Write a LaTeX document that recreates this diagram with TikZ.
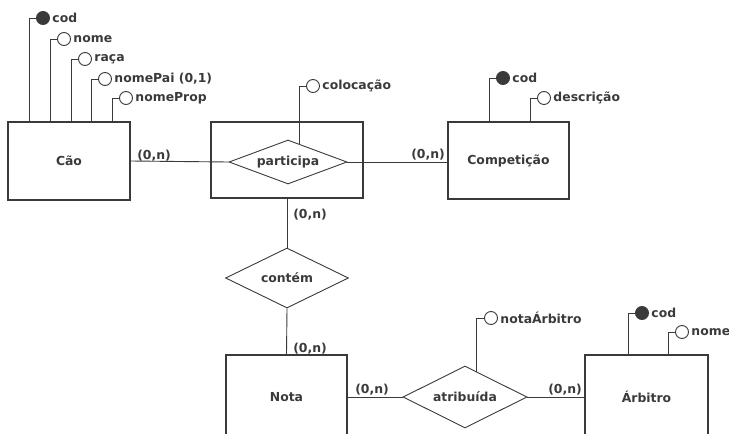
\documentclass[tikz,border=0pt]{standalone}
\usepackage{fontspec}
\setmainfont{DejaVu Sans}
\usepackage{tikz}
\usetikzlibrary{shapes.geometric,calc}
\definecolor{ink}{HTML}{3A3A3A}

\begin{document}
\begin{tikzpicture}[x=1pt,y=-1pt,
  every node/.append style={font=\fontsize{12.4}{14}\selectfont\bfseries,text=ink},
  ent/.style={draw=ink,line width=1.2pt,minimum width=122pt,minimum height=78pt,inner sep=0pt},
  rel/.style={draw=ink,line width=0.9pt,diamond,inner sep=0pt,aspect=2.5},
  key/.style={circle,draw=ink,fill=ink,line width=0.9pt,minimum size=13pt,inner sep=0pt},
  att/.style={circle,draw=ink,fill=white,line width=0.9pt,minimum size=13pt,inner sep=0pt},
  link/.style={draw=ink,line width=0.9pt},
  card/.style={inner sep=0pt}]
\useasboundingbox (0,0) rectangle (729,434);
%\draw[help lines] (0,0) grid[step=50] (729,434);

% entidades
\node[ent] (cao) at (69,161) {Cão};
\node[ent,minimum width=152pt,minimum height=76pt] (partbox) at (287,160) {};
\node[ent,minimum width=121pt,minimum height=77pt] (comp) at (508.5,160.5) {Competição};
\node[ent,minimum width=121pt,minimum height=84pt] (nota) at (286.5,397) {Nota};
\node[ent,minimum width=123pt,minimum height=84pt] (arb) at (646.5,397) {Árbitro};

% relacionamentos
\node[rel,minimum width=118pt,minimum height=44pt] (part) at (288,162) {participa};
\node[rel,minimum width=123pt,minimum height=60pt] (cont) at (287,278) {contém};
\node[rel,minimum width=124pt,minimum height=62pt] (atrib) at (465,397) {atribuída};

\draw[link] (cao.east) -- (part.west);
\draw[link] (part.east) -- (comp.west |- part.east);
\draw[link] (partbox.south) -- (cont.north);
\draw[link] (cont.south) -- (nota.north);
\draw[link] (nota.east |- atrib.west) -- (atrib.west);
\draw[link] (atrib.east) -- (arb.west |- atrib.east);

% cardinalidades
\node[card] (k1) at (154,156) {(0,n)};
\node[card] (k2) at (428,155) {(0,n)};
\node[card] (k3) at (310,215) {(0,n)};
\node[card] (k4) at (310,349) {(0,n)};
\node[card] (k5) at (372,390) {(0,n)};
\node[card] (k6) at (565,390) {(0,n)};

% atributos
\foreach \n/\x/\y/\t/\s in {c1/29/18/cod/key,c2/50/39/nome/att,c3/71/59/raça/att,
  c4/91/79/{nomePai (0,1)}/att,c5/112/98/nomeProp/att}
{
\node[\s,label={[label distance=-1pt]right:\t}] (\n) at (\x+14,\y) {};
\draw[link] (\n.west) -| (\x,0 |- cao.north);
}
\foreach \n/\x/\y/\t/\s in {m1/489/78/cod/key,m2/530/98/descrição/att}
{
\node[\s,label={[label distance=-1pt]right:\t}] (\n) at (\x+14,\y) {};
\draw[link] (\n.west) -| (\x,0 |- comp.north);
}
\foreach \n/\x/\y/\t/\s in {a1/628/313/cod/key,a2/668/332/nome/att}
{
\node[\s,label={[label distance=-1pt]right:\t}] (\n) at (\x+14,\y) {};
\draw[link] (\n.west) -| (\x,0 |- arb.north);
}
\node[att,label={[label distance=-1pt]right:colocação}] (col) at (313,86) {};
\draw[link] (col.west) -| ($(part.north)!0.19!(part.east)$);
\node[att,label={[label distance=-1pt]right:notaÁrbitro}] (nar) at (491,318) {};
\draw[link] (nar.west) -| ($(atrib.north)!0.19!(atrib.east)$);
\end{tikzpicture}
\end{document}
